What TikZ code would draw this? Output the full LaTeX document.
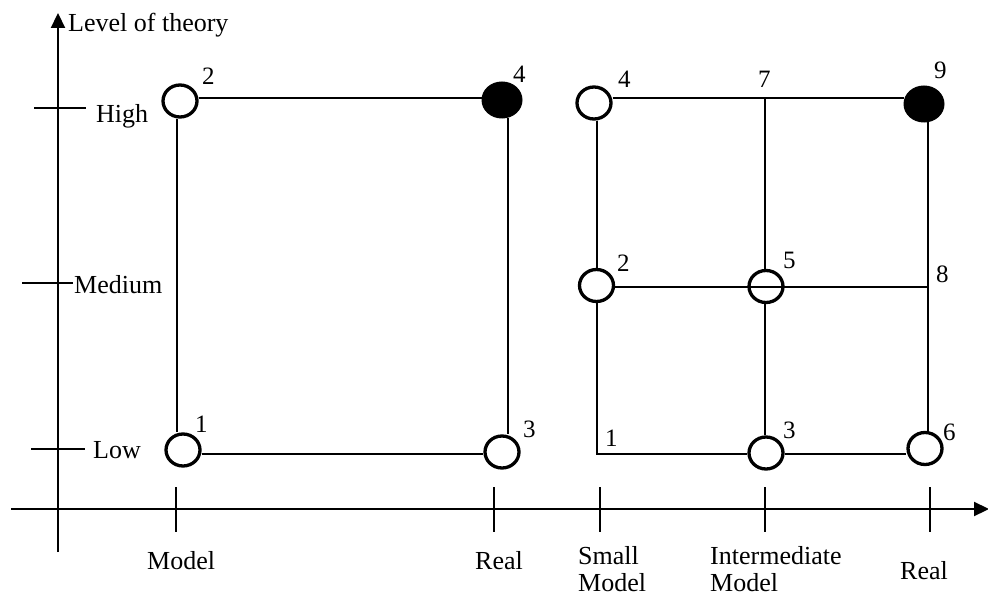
\documentclass[tikz,border=0pt]{standalone}
\usepackage{fontspec}
\setmainfont{Liberation Serif}
\usetikzlibrary{arrows.meta,shapes.geometric}
\begin{document}
\begin{tikzpicture}[x=1pt,y=-1pt,
  lbl/.style={anchor=base west,inner sep=0pt,font=\fontsize{26}{28}\selectfont},
  num/.style={anchor=base west,inner sep=0pt,font=\fontsize{25}{28}\selectfont},
  axisline/.style={line width=2.2pt},
  tickline/.style={line width=2pt},
  link/.style={line width=2pt},
  open/.style={ellipse,draw,line width=3.3pt,minimum width=34pt,minimum height=32pt,inner sep=0pt},
  full/.style={ellipse,draw,fill=black,line width=1pt,minimum width=40pt,minimum height=36pt,inner sep=0pt},
  arr/.style={-{Triangle[width=14pt,length=15pt]}}]
\useasboundingbox (0,0) rectangle (988,596);

% axes
\coordinate (yb) at (58,552);
\coordinate (yt) at (58,13);
\coordinate (xl) at (11,509);
\coordinate (xr) at (989,509);
\draw[axisline,arr] (yb) -- (yt);
\draw[axisline,arr] (xl) -- (xr);
\node[lbl] (ylab) at (68,32) {Level of theory};

% y ticks
\coordinate (th1) at (34,108); \coordinate (th2) at (86,108);
\coordinate (tm1) at (22,283); \coordinate (tm2) at (73,283);
\coordinate (tl1) at (31,449); \coordinate (tl2) at (85,449);
\draw[tickline] (th1) -- (th2);
\draw[tickline] (tm1) -- (tm2);
\draw[tickline] (tl1) -- (tl2);
\node[lbl] (high) at (96,123) {High};
\node[lbl] (med) at (74,293) {Medium};
\node[lbl] (low) at (93,458) {Low};

% x ticks
\foreach \n/\x in {a/176,b/494,c/600,d/765,e/930}{
  \coordinate (xt\n1) at (\x,487);
  \coordinate (xt\n2) at (\x,532);
  \draw[tickline] (xt\n1) -- (xt\n2);
}
\node[lbl] (mA) at (147,569) {Model};
\node[lbl] (rA) at (475,569) {Real};
\node[lbl] (sB) at (578,564) {Small};
\node[lbl] (mB) at (578,591) {Model};
\node[lbl] (iC) at (710,564) {Intermediate};
\node[lbl] (mC) at (710,591) {Model};
\node[lbl] (rD) at (900,579) {Real};

% left diagram
\node[open] (L1) at (183,450) {};
\node[open] (L2) at (180,101) {};
\node[open] (L3) at (502,452) {};
\node[full] (L4) at (502,100) {};
\draw[link] ([yshift=3pt]L2.east) -- ([yshift=2pt]L4.west);
\draw[link] ([xshift=-3pt]L2.south) -- ([xshift=-6pt]L1.north);
\draw[link] ([xshift=6pt]L4.south) -- ([xshift=6pt]L3.north);
\draw[link] ([yshift=-4pt]L1.east) -- ([yshift=-2pt]L3.west);
\node[num] (nL1) at (195,432) {1};
\node[num] (nL2) at (202,85) {2};
\node[num] (nL3) at (523,437) {3};
\node[num] (nL4) at (513,83) {4};

% right diagram
\node[open] (R4) at (594,103) {};
\node[full] (R9) at (924,104) {};
\node[open] (R2) at (596.5,285.5) {};
\node[open] (R5) at (766,286.5) {};
\node[open] (R3) at (766,453) {};
\node[open] (R6) at (925,448.5) {};
\coordinate (R7) at (765,98);
\coordinate (R8) at (928,287);
\coordinate (R1) at (597,454);
\draw[link] ([yshift=5pt]R4.east) -- ([yshift=6pt]R9.west);
\draw[link] (R7) -- ([xshift=-1pt]R5.north);
\draw[link] ([xshift=3pt]R4.south) -- ([xshift=0.5pt]R2.north);
\draw[link] ([yshift=-1.5pt]R2.east) -- (R8);
\draw[link] ([xshift=4pt]R9.south) -- ([xshift=3pt]R6.north);
\draw[link] ([xshift=-1pt]R5.south) -- ([xshift=-1pt]R3.north);
\draw[link] ([xshift=0.5pt]R2.south) -- (R1) -- ([yshift=-1pt]R3.west);
\draw[link] ([yshift=-1pt]R3.east) -- ([yshift=-5.5pt]R6.west);
\node[num] (nR1) at (605,446) {1};
\node[num] (nR2) at (617,271) {2};
\node[num] (nR3) at (783,438) {3};
\node[num] (nR4) at (618,88) {4};
\node[num] (nR5) at (783,269) {5};
\node[num] (nR6) at (943,440) {6};
\node[num] (nR7) at (758,88) {7};
\node[num] (nR8) at (936,283) {8};
\node[num] (nR9) at (934,79) {9};
\end{tikzpicture}
\end{document}
